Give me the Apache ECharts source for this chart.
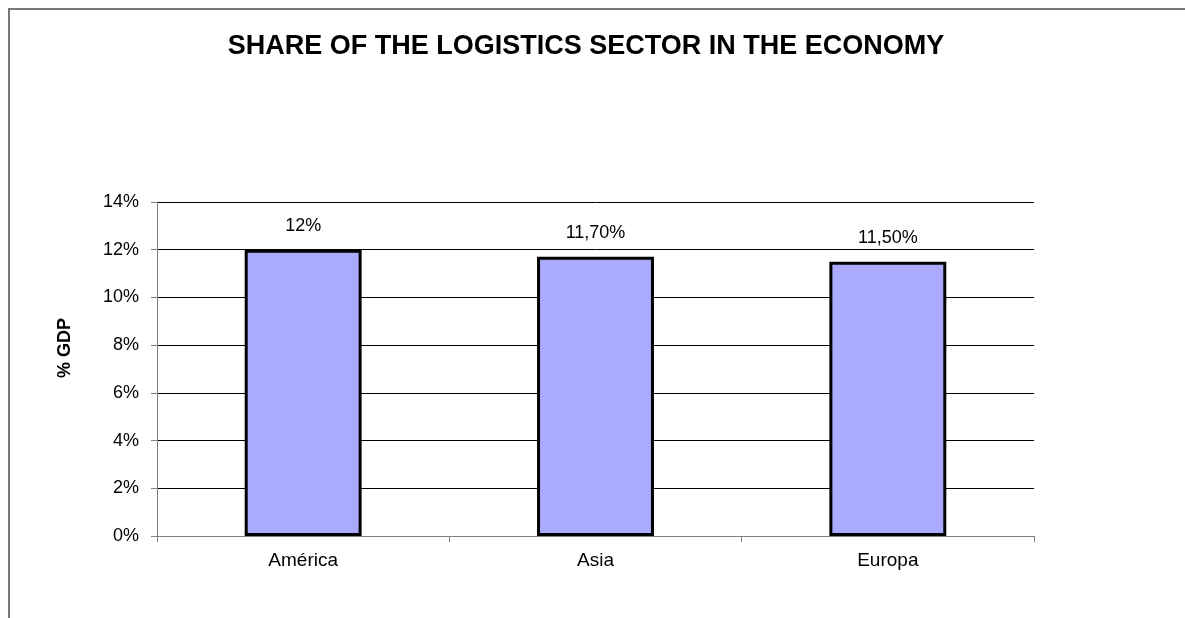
<!DOCTYPE html>
<html>
<head>
<meta charset="utf-8">
<script src="https://cdn.jsdelivr.net/npm/echarts@6/dist/echarts.min.js"></script>
<style>
  html, body { margin: 0; padding: 0; background: #fff; }
  #chart { width: 1185px; height: 618px; }
</style>
</head>
<body>
<div id="chart"></div>
<script>
// Logistics share of GDP by region
var regions = ['América', 'Asia', 'Europa'];
var shareValues = [12, 11.7, 11.5];
var shareLabels = ['12%', '11,70%', '11,50%'];
var yTicks = { min: 0, max: 14, interval: 2 };

var font = '"Liberation Sans", Arial, sans-serif';
var chart = echarts.init(document.getElementById('chart'), null, { renderer: 'canvas' });

chart.setOption({
  backgroundColor: '#ffffff',
  animation: false,
  title: {
    text: 'SHARE OF THE LOGISTICS SECTOR IN THE ECONOMY',
    left: 581,
    top: 28,
    textAlign: 'center',
    textStyle: { fontFamily: font, fontSize: 27, fontWeight: 'bold', color: '#000' }
  },
  graphic: [{
    type: 'rect',
    shape: { x: 9, y: 9, width: 1250, height: 700 },
    style: { fill: 'none', stroke: '#777777', lineWidth: 2 },
    silent: true
  }],
  grid: { left: 157, right: 151, top: 202, bottom: 82 },
  xAxis: {
    type: 'category',
    data: regions,
    axisLine: { lineStyle: { color: '#808080', width: 1 } },
    axisTick: { show: true, length: 6, alignWithLabel: false, lineStyle: { color: '#808080' } },
    axisLabel: { fontFamily: font, fontSize: 19, color: '#000', margin: 15 }
  },
  yAxis: {
    type: 'value',
    min: yTicks.min,
    max: yTicks.max,
    interval: yTicks.interval,
    name: '% GDP',
    nameLocation: 'middle',
    nameGap: 83,
    nameRotate: 90,
    nameTextStyle: { fontFamily: font, fontSize: 18, fontWeight: 'bold', color: '#000', padding: [0, 0, 0, 42] },
    axisLine: { show: true, lineStyle: { color: '#808080', width: 1 } },
    axisTick: { show: true, length: 6, lineStyle: { color: '#808080' } },
    axisLabel: { fontFamily: font, fontSize: 18, color: '#000', margin: 18, formatter: '{value}%' },
    splitLine: { show: true, lineStyle: { color: '#000000', width: 1 } }
  },
  series: [{
    type: 'bar',
    data: shareValues,
    barCategoryGap: '60%',
    itemStyle: { color: '#aaaaff', borderColor: '#000000', borderWidth: 3 },
    label: {
      show: true,
      position: 'top',
      distance: 15,
      fontFamily: font,
      fontSize: 18,
      color: '#000',
      formatter: function (p) { return shareLabels[p.dataIndex]; }
    }
  }]
});
</script>
</body>
</html>
